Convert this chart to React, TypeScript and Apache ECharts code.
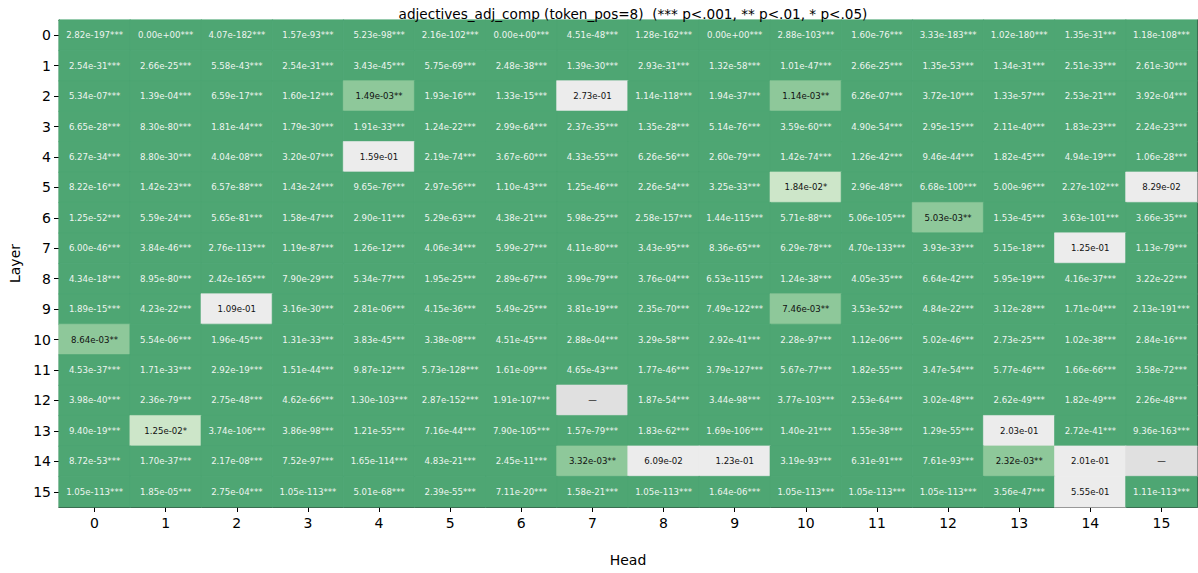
import React, { useEffect, useRef } from "react";
import * as echarts from "echarts";

const heads: string[] = Array.from({ length: 16 }, (_, i) => String(i));
const layers: string[] = Array.from({ length: 16 }, (_, i) => String(i));

const pRows: string[][] = [
  ["2.82e-197***", "0.00e+00***", "4.07e-182***", "1.57e-93***", "5.23e-98***", "2.16e-102***", "0.00e+00***", "4.51e-48***", "1.28e-162***", "0.00e+00***", "2.88e-103***", "1.60e-76***", "3.33e-183***", "1.02e-180***", "1.35e-31***", "1.18e-108***"],
  ["2.54e-31***", "2.66e-25***", "5.58e-43***", "2.54e-31***", "3.43e-45***", "5.75e-69***", "2.48e-38***", "1.39e-30***", "2.93e-31***", "1.32e-58***", "1.01e-47***", "2.66e-25***", "1.35e-53***", "1.34e-31***", "2.51e-33***", "2.61e-30***"],
  ["5.34e-07***", "1.39e-04***", "6.59e-17***", "1.60e-12***", "1.49e-03**", "1.93e-16***", "1.33e-15***", "2.73e-01", "1.14e-118***", "1.94e-37***", "1.14e-03**", "6.26e-07***", "3.72e-10***", "1.33e-57***", "2.53e-21***", "3.92e-04***"],
  ["6.65e-28***", "8.30e-80***", "1.81e-44***", "1.79e-30***", "1.91e-33***", "1.24e-22***", "2.99e-64***", "2.37e-35***", "1.35e-28***", "5.14e-76***", "3.59e-60***", "4.90e-54***", "2.95e-15***", "2.11e-40***", "1.83e-23***", "2.24e-23***"],
  ["6.27e-34***", "8.80e-30***", "4.04e-08***", "3.20e-07***", "1.59e-01", "2.19e-74***", "3.67e-60***", "4.33e-55***", "6.26e-56***", "2.60e-79***", "1.42e-74***", "1.26e-42***", "9.46e-44***", "1.82e-45***", "4.94e-19***", "1.06e-28***"],
  ["8.22e-16***", "1.42e-23***", "6.57e-88***", "1.43e-24***", "9.65e-76***", "2.97e-56***", "1.10e-43***", "1.25e-46***", "2.26e-54***", "3.25e-33***", "1.84e-02*", "2.96e-48***", "6.68e-100***", "5.00e-96***", "2.27e-102***", "8.29e-02"],
  ["1.25e-52***", "5.59e-24***", "5.65e-81***", "1.58e-47***", "2.90e-11***", "5.29e-63***", "4.38e-21***", "5.98e-25***", "2.58e-157***", "1.44e-115***", "5.71e-88***", "5.06e-105***", "5.03e-03**", "1.53e-45***", "3.63e-101***", "3.66e-35***"],
  ["6.00e-46***", "3.84e-46***", "2.76e-113***", "1.19e-87***", "1.26e-12***", "4.06e-34***", "5.99e-27***", "4.11e-80***", "3.43e-95***", "8.36e-65***", "6.29e-78***", "4.70e-133***", "3.93e-33***", "5.15e-18***", "1.25e-01", "1.13e-79***"],
  ["4.34e-18***", "8.95e-80***", "2.42e-165***", "7.90e-29***", "5.34e-77***", "1.95e-25***", "2.89e-67***", "3.99e-79***", "3.76e-04***", "6.53e-115***", "1.24e-38***", "4.05e-35***", "6.64e-42***", "5.95e-19***", "4.16e-37***", "3.22e-22***"],
  ["1.89e-15***", "4.23e-22***", "1.09e-01", "3.16e-30***", "2.81e-06***", "4.15e-36***", "5.49e-25***", "3.81e-19***", "2.35e-70***", "7.49e-122***", "7.46e-03**", "3.53e-52***", "4.84e-22***", "3.12e-28***", "1.71e-04***", "2.13e-191***"],
  ["8.64e-03**", "5.54e-06***", "1.96e-45***", "1.31e-33***", "3.83e-45***", "3.38e-08***", "4.51e-45***", "2.88e-04***", "3.29e-58***", "2.92e-41***", "2.28e-97***", "1.12e-06***", "5.02e-46***", "2.73e-25***", "1.02e-38***", "2.84e-16***"],
  ["4.53e-37***", "1.71e-33***", "2.92e-19***", "1.51e-44***", "9.87e-12***", "5.73e-128***", "1.61e-09***", "4.65e-43***", "1.77e-46***", "3.79e-127***", "5.67e-77***", "1.82e-55***", "3.47e-54***", "5.77e-46***", "1.66e-66***", "3.58e-72***"],
  ["3.98e-40***", "2.36e-79***", "2.75e-48***", "4.62e-66***", "1.30e-103***", "2.87e-152***", "1.91e-107***", "—", "1.87e-54***", "3.44e-98***", "3.77e-103***", "2.53e-64***", "3.02e-48***", "2.62e-49***", "1.82e-49***", "2.26e-48***"],
  ["9.40e-19***", "1.25e-02*", "3.74e-106***", "3.86e-98***", "1.21e-55***", "7.16e-44***", "7.90e-105***", "1.57e-79***", "1.83e-62***", "1.69e-106***", "1.40e-21***", "1.55e-38***", "1.29e-55***", "2.03e-01", "2.72e-41***", "9.36e-163***"],
  ["8.72e-53***", "1.70e-37***", "2.17e-08***", "7.52e-97***", "1.65e-114***", "4.83e-21***", "2.45e-11***", "3.32e-03**", "6.09e-02", "1.23e-01", "3.19e-93***", "6.31e-91***", "7.61e-93***", "2.32e-03**", "2.01e-01", "—"],
  ["1.05e-113***", "1.85e-05***", "2.75e-04***", "1.05e-113***", "5.01e-68***", "2.39e-55***", "7.11e-20***", "1.58e-21***", "1.05e-113***", "1.64e-06***", "1.05e-113***", "1.05e-113***", "1.05e-113***", "3.56e-47***", "5.55e-01", "1.11e-113***"],
];

const titleText = "adjectives_adj_comp (token_pos=8)  (*** p<.001, ** p<.01, * p<.05)";

const levelColors: Record<string, string> = {
  "3": "#4ea673",
  "2": "#8ec89a",
  "1": "#cde6c9",
  "0": "#ececec",
  "-1": "#e0e0e0",
};

function level(label: string): number {
  if (label === "—") return -1;
  const m = label.match(/\*+$/);
  return m ? m[0].length : 0;
}

const FONT = "DejaVu Sans";

export default function App() {
  const ref = useRef<HTMLDivElement>(null);
  useEffect(() => {
    if (!ref.current) return;
    const chart = echarts.init(ref.current, undefined, { renderer: "svg" });
    const data: any[] = [];
    pRows.forEach((row, y) => {
      row.forEach((lab, x) => {
        const lv = level(lab);
        data.push({
          value: [x, y, lv, lab],
          itemStyle: { borderColor: levelColors[String(lv)], borderWidth: 0.6 },
        });
      });
    });
    const hiddenAxisBits = {
      axisLabel: { show: false },
      axisTick: { show: false },
      splitLine: { show: false },
      axisLine: { show: true, lineStyle: { color: "#222", width: 1.2 } },
    };
    chart.setOption({
      animation: false,
      backgroundColor: "#ffffff",
      title: {
        text: titleText,
        left: 628,
        top: 2,
        textAlign: "center",
        textStyle: { fontFamily: FONT, fontSize: 13.6, fontWeight: "normal", color: "#000" },
      },
      grid: { left: 58, right: 1, top: 20, bottom: 66 },
      visualMap: {
        show: false,
        type: "piecewise",
        dimension: 2,
        seriesIndex: 0,
        pieces: [3, 2, 1, 0, -1].map((v) => ({ value: v, color: levelColors[String(v)] })),
      },
      xAxis: [
        {
          type: "category",
          data: heads,
          position: "bottom",
          name: "Head",
          nameLocation: "middle",
          nameGap: 46,
          nameTextStyle: { fontFamily: FONT, fontSize: 14, color: "#000" },
          axisLabel: { fontFamily: FONT, fontSize: 14, color: "#000", margin: 9 },
          axisTick: { show: true, alignWithLabel: true, length: 5, lineStyle: { color: "#000" } },
          axisLine: { show: true, lineStyle: { color: "#222", width: 1.2 } },
          splitLine: { show: false },
        },
        { type: "category", data: heads, position: "top", ...hiddenAxisBits },
      ],
      yAxis: [
        {
          type: "category",
          data: layers,
          inverse: true,
          position: "left",
          name: "Layer",
          nameLocation: "middle",
          nameGap: 37,
          nameRotate: 90,
          nameTextStyle: { fontFamily: FONT, fontSize: 14, color: "#000" },
          axisLabel: { fontFamily: FONT, fontSize: 14, color: "#000", margin: 8 },
          axisTick: { show: true, alignWithLabel: true, length: 5, lineStyle: { color: "#000" } },
          axisLine: { show: true, lineStyle: { color: "#222", width: 1.2 } },
          splitLine: { show: false },
        },
        { type: "category", data: layers, inverse: true, position: "right", ...hiddenAxisBits },
      ],
      series: [
        {
          type: "heatmap",
          xAxisIndex: 0,
          yAxisIndex: 0,
          data,
          label: {
            show: true,
            fontFamily: FONT,
            formatter: (p: any) => {
              const lv = p.value[2];
              const lab = p.value[3];
              return lv === 3 ? `{w|${lab}}` : `{b|${lab}}`;
            },
            rich: {
              w: { color: "#eef5f0", fontSize: 8.6, fontFamily: FONT },
              b: { color: "#111", fontSize: 8.6, fontFamily: FONT },
            },
          },
          emphasis: { disabled: true },
        },
      ],
    });
    return () => chart.dispose();
  }, []);
  return (
    <div
      ref={ref}
      style={{ position: "fixed", left: 0, top: 0, width: 1198, height: 573 }}
    />
  );
}
